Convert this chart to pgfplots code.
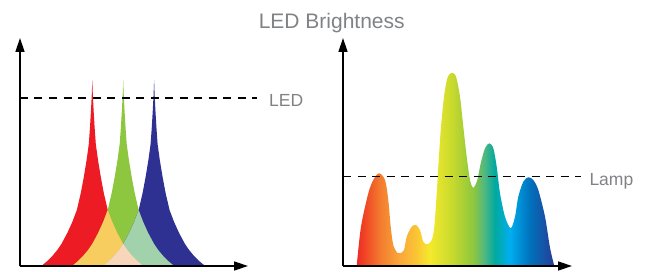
\documentclass[border=0pt]{standalone}
\usepackage{pgfplots}
\pgfplotsset{compat=1.18}
\usepackage{fontspec}
\setmainfont{Liberation Sans}
\usetikzlibrary{arrows.meta}

\definecolor{ledred}{RGB}{237,28,36}
\definecolor{ledgreen}{RGB}{141,198,63}
\definecolor{ledblue}{RGB}{46,49,146}
\definecolor{ovyellow}{RGB}{246,205,94}
\definecolor{ovgreen}{RGB}{162,210,172}
\definecolor{ovpeach}{RGB}{248,214,185}
\definecolor{txtgray}{RGB}{128,130,133}

\definecolor{s0}{RGB}{238,42,36}
\definecolor{s1}{RGB}{241,90,40}
\definecolor{s2}{RGB}{243,122,46}
\definecolor{s3}{RGB}{249,168,58}
\definecolor{s4}{RGB}{250,196,52}
\definecolor{s5}{RGB}{245,233,44}
\definecolor{s6}{RGB}{200,218,45}
\definecolor{s7}{RGB}{141,198,63}
\definecolor{s8}{RGB}{77,183,131}
\definecolor{s9}{RGB}{0,169,157}
\definecolor{s10}{RGB}{0,174,239}
\definecolor{s11}{RGB}{0,114,188}
\definecolor{s12}{RGB}{38,60,151}

\pgfdeclarehorizontalshading{spectrum}{100bp}{color(0bp)=(s0); color(25bp)=(s0); color(28.54bp)=(s1); color(30.82bp)=(s2); color(35.88bp)=(s3); color(39.93bp)=(s4); color(43.47bp)=(s5); color(49.04bp)=(s6); color(54.6bp)=(s7); color(57.39bp)=(s8); color(59.92bp)=(s9); color(63.71bp)=(s10); color(68.78bp)=(s11); color(75bp)=(s12); color(100bp)=(s12)}

\pgfplotstableread{
x y
21.3 0
27.3 5
32.3 10
37.3 16
41.4 22
47.3 33
52.3 44
56.85 56
60.8 73
63.8 89
66.6 106
68.8 122
70 139
71 156
71.8 172
72.3 186
72.8 172
73.6 156
74.6 139
75.8 122
78 106
80.8 89
83.8 73
87.75 56
92.3 44
97.3 33
103.2 22
107.3 16
112.3 10
117.3 5
123.3 0
}\redtable

\pgfplotstableread{
x y
52.2 0
58.2 5
63.2 10
68.2 16
72.3 22
78.2 33
83.2 44
87.75 56
91.7 73
94.7 89
97.5 106
99.7 122
100.9 139
101.9 156
102.7 172
103.2 186
103.7 172
104.5 156
105.5 139
106.7 122
108.9 106
111.7 89
114.7 73
118.65 56
123.2 44
128.2 33
134.1 22
138.2 16
143.2 10
148.2 5
154.2 0
}\greentable

\pgfplotstableread{
x y
83.1 0
89.1 5
94.1 10
99.1 16
103.2 22
109.1 33
114.1 44
118.65 56
122.6 73
125.6 89
128.4 106
130.6 122
131.8 139
132.8 156
133.6 172
134.1 186
134.6 172
135.4 156
136.4 139
137.6 122
139.8 106
142.6 89
145.6 73
149.55 56
154.1 44
159.1 33
165 22
169.1 16
174.1 10
179.1 5
185.1 0
}\bluetable

\pgfplotstableread{
x y
52.2 0
58.2 5
63.2 10
68.2 16
72.3 22
78.2 33
83.2 44
87.75 56
92.3 44
97.3 33
103.2 22
107.3 16
112.3 10
117.3 5
123.3 0
}\rgtable

\pgfplotstableread{
x y
83.1 0
89.1 5
94.1 10
99.1 16
103.2 22
109.1 33
114.1 44
118.65 56
123.2 44
128.2 33
134.1 22
138.2 16
143.2 10
148.2 5
154.2 0
}\gbtable

\pgfplotstableread{
x y
83.1 0
89.1 5
94.1 10
99.1 16
103.2 22
107.3 16
112.3 10
117.3 5
123.3 0
}\rbtable

\pgfplotstableread{
x y
13.7 0
18 39.3
25.3 72.7
30.3 86
36 92.7
42 86
45.3 66
47.7 39.3
50.3 21
54.3 13.3
57 12.7
61 16
63.7 29.3
68.7 39.3
73 41
77 36
80.3 24.3
84.3 21.7
88.7 26
91.3 39.3
93.7 72.7
95.7 106
98 139.3
101 169.3
104.3 187.7
108.7 193.3
113 189.3
117 169.3
120.3 139.3
123.7 109.3
127 86
130.3 78.3
134.3 86
137.7 102.7
142 117.7
146.3 122.7
150.3 117.7
153.7 99.3
157 72.7
162 49.3
167.7 37.7
172 49.3
175.3 69.3
180.3 84.3
185.3 88.7
190.3 86
195.3 76
202 49.3
207 18.3
211.3 0
}\lamptable

\begin{document}
\begin{tikzpicture}
\path[use as bounding box] (0,0) rectangle (648pt,271pt);
\node[anchor=base, inner sep=0pt, text=txtgray, font=\fontsize{21}{25}\selectfont] at (331.7pt,242.7pt) {LED Brightness};

\begin{axis}[
  at={(20pt,5pt)}, anchor=south west,
  scale only axis, width=228pt, height=228pt,
  xmin=0, xmax=228, ymin=0, ymax=228,
  hide axis, clip=false,
]
\addplot[draw=none, fill=ledred] table {\redtable} \closedcycle;
\addplot[draw=none, fill=ledgreen] table {\greentable} \closedcycle;
\addplot[draw=none, fill=ledblue] table {\bluetable} \closedcycle;
\addplot[draw=none, fill=ovyellow] table {\rgtable} \closedcycle;
\addplot[draw=none, fill=ovgreen] table {\gbtable} \closedcycle;
\addplot[draw=none, fill=ovpeach] table {\rbtable} \closedcycle;
\draw[line width=1.5pt, dash pattern=on 8pt off 6.5pt] (axis cs:0,168) -- (axis cs:237,168);
\node[anchor=base west, inner sep=0pt, text=txtgray, font=\fontsize{17.5}{20}\selectfont] at (axis cs:249,159.3) {LED};
\draw[line width=1.5pt, -{Triangle[length=14pt,width=9pt]}] (axis cs:0,0) -- (axis cs:228,0);
\draw[line width=1.5pt, -{Triangle[length=14pt,width=9pt]}] (axis cs:0,0) -- (axis cs:0,228);
\end{axis}

\begin{axis}[
  at={(343pt,5pt)}, anchor=south west,
  scale only axis, width=229pt, height=228pt,
  xmin=0, xmax=229, ymin=0, ymax=228,
  hide axis, clip=false,
]
\addplot[draw=none, shade, shading=spectrum, smooth, tension=0.5] table {\lamptable} \closedcycle;
\draw[line width=1.5pt, dash pattern=on 8pt off 6.5pt] (axis cs:0,89.3) -- (axis cs:238,89.3);
\node[anchor=base west, inner sep=0pt, text=txtgray, font=\fontsize{17.5}{20}\selectfont] at (axis cs:246.3,81) {Lamp};
\draw[line width=1.5pt, -{Triangle[length=14pt,width=9pt]}] (axis cs:0,0) -- (axis cs:229,0);
\draw[line width=1.5pt, -{Triangle[length=14pt,width=9pt]}] (axis cs:0,0) -- (axis cs:0,228);
\end{axis}
\end{tikzpicture}
\end{document}
